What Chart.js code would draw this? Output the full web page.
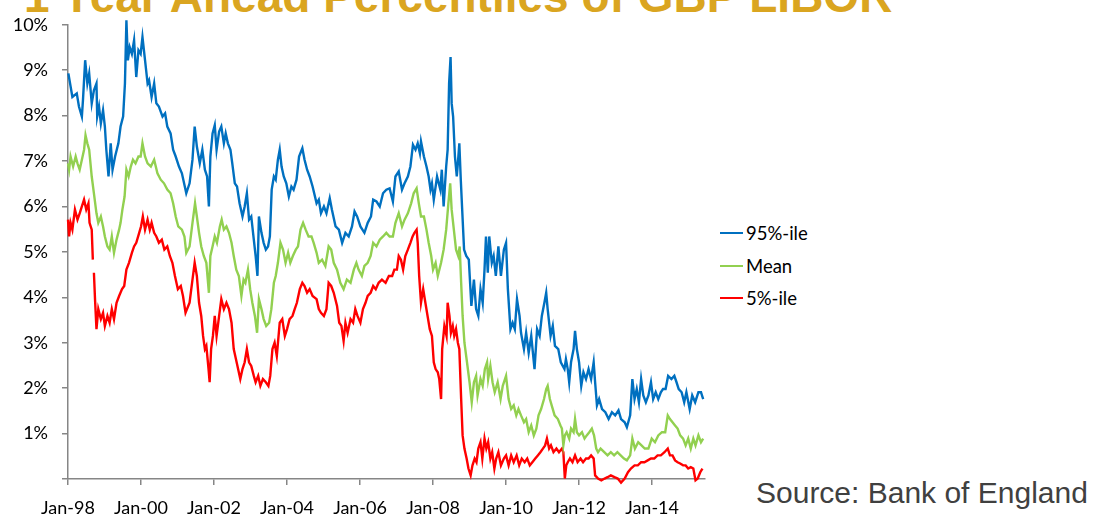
<!DOCTYPE html>
<html>
<head>
<meta charset="utf-8">
<title>1 Year Ahead Percentiles of GBP LIBOR</title>
<script src="https://cdn.jsdelivr.net/npm/chart.js@4.4.1/dist/chart.umd.min.js"></script>
<style>
  body { margin: 0; width: 1098px; height: 519px; background: #fff; position: relative; overflow: hidden; font-family: Lato, sans-serif; }
  #title { position: absolute; left: 24px; top: -27px; font: bold 46px/46px "Liberation Sans", Arial, sans-serif; color: #DAA520; white-space: nowrap; }
  #wrap { position: absolute; left: 0; top: 0; width: 720px; height: 519px; }
  #legend { position: absolute; left: 720px; top: 221px; }
  .row { position: relative; height: 32.5px; font-size: 18.5px; line-height: 24px; color: #000; padding-left: 26px; white-space: nowrap; }
  .row span { position: absolute; left: 0; top: 11px; width: 23px; height: 2px; }
  #source { position: absolute; left: 756px; top: 478px; font: 30px/30px "Liberation Sans", Arial, sans-serif; color: #404040; white-space: nowrap; }
</style>
</head>
<body>
<div id="title">1 Year Ahead Percentiles of GBP LIBOR</div>
<div id="wrap"><canvas id="liborChart"></canvas></div>
<div id="legend"></div>
<div id="source">Source: Bank of England</div>
<script>
// x positions are decimal years, values in %
const tickYears = [1998, 2000, 2002, 2004, 2006, 2008, 2010, 2012, 2014];
const tickLabels = ['Jan-98', 'Jan-00', 'Jan-02', 'Jan-04', 'Jan-06', 'Jan-08', 'Jan-10', 'Jan-12', 'Jan-14'];
const seriesNames = ['95%-ile', 'Mean', '5%-ile'];
const seriesColors = ['#0070C0', '#92D050', '#FF0000'];

const p95Dates = [1998.01,1998.12,1998.24,1998.30,1998.38,1998.41,1998.47,1998.53,1998.58,1998.65,1998.71,1998.78,1998.80,1998.85,1998.90,1998.96,
  1999.01,1999.05,1999.11,1999.17,1999.22,1999.29,1999.38,1999.44,1999.51,1999.56,1999.60,1999.64,1999.69,1999.75,1999.81,1999.87,1999.93,1999.99,
  2000.04,2000.11,2000.18,2000.22,2000.29,2000.36,2000.42,2000.49,2000.59,2000.66,2000.72,2000.81,2000.88,2000.95,
  2001.04,2001.12,2001.24,2001.33,2001.41,2001.47,2001.53,2001.61,2001.68,2001.75,2001.81,2001.86,2001.90,2001.96,
  2002.02,2002.07,2002.14,2002.20,2002.27,2002.32,2002.38,2002.45,2002.50,2002.57,2002.63,2002.70,2002.78,2002.84,2002.90,2002.96,
  2003.02,2003.09,2003.14,2003.19,2003.23,2003.30,2003.36,2003.42,2003.48,2003.53,2003.58,2003.64,2003.69,2003.75,2003.80,2003.85,2003.91,2003.98,
  2004.05,2004.12,2004.18,2004.26,2004.33,2004.42,2004.48,2004.55,2004.62,2004.70,2004.81,2004.87,2004.93,
  2005.01,2005.08,2005.17,2005.23,2005.33,2005.42,2005.51,2005.60,2005.69,2005.78,2005.85,2005.92,
  2006.01,2006.12,2006.21,2006.30,2006.36,2006.45,2006.54,2006.63,2006.72,2006.81,2006.90,2006.97,
  2007.06,2007.15,2007.22,2007.31,2007.38,2007.45,2007.52,2007.58,2007.64,2007.67,2007.75,2007.82,2007.88,2007.93,2007.97,
  2008.02,2008.11,2008.20,2008.24,2008.29,2008.36,2008.40,2008.44,2008.48,2008.51,2008.55,2008.60,2008.65,2008.68,2008.72,2008.76,2008.79,2008.85,2008.91,2008.98,
  2009.05,2009.12,2009.18,2009.24,2009.30,2009.36,2009.41,2009.45,2009.50,2009.54,2009.61,2009.66,2009.72,2009.79,2009.86,2009.94,
  2010.00,2010.05,2010.12,2010.18,2010.24,2010.30,2010.37,2010.41,2010.49,2010.55,2010.62,2010.69,2010.78,2010.85,2010.92,2010.98,
  2011.05,2011.10,2011.14,2011.22,2011.28,2011.34,2011.43,2011.50,2011.60,2011.64,2011.69,2011.73,2011.78,2011.85,2011.89,2011.94,
  2012.00,2012.06,2012.12,2012.19,2012.26,2012.33,2012.40,2012.44,2012.49,2012.55,2012.63,2012.72,2012.81,2012.90,2012.99,
  2013.08,2013.15,2013.25,2013.31,2013.40,2013.46,2013.52,2013.58,2013.64,2013.70,2013.76,2013.83,2013.90,2013.97,
  2014.03,2014.10,2014.17,2014.24,2014.30,2014.37,2014.44,2014.53,2014.61,2014.67,2014.73,2014.81,2014.88,2014.94,
  2015.03,2015.10,2015.18,2015.27,2015.34,2015.40];
const p95Values = [8.93,8.41,8.49,8.20,7.98,8.34,9.22,8.71,8.93,8.27,8.56,8.71,7.98,8.20,7.83,8.12,
  7.76,7.25,6.66,7.39,6.81,7.10,7.39,7.76,7.98,8.71,10.10,9.22,9.51,9.36,9.66,8.85,9.44,9.36,
  9.73,9.22,8.71,8.78,8.41,8.71,8.27,8.20,7.98,8.05,7.76,7.61,7.25,7.10,
  6.88,6.73,6.29,6.51,7.03,7.76,7.32,6.95,7.25,6.81,6.66,6.00,7.10,7.61,
  7.79,7.25,7.65,7.76,7.39,7.61,7.39,7.25,6.95,6.51,6.44,6.07,5.78,6.00,6.29,5.71,
  5.78,5.27,4.91,4.47,5.78,5.42,5.20,5.05,5.12,5.34,6.37,6.66,6.59,7.03,7.25,6.88,6.66,6.51,
  6.22,6.44,6.37,6.59,7.10,7.28,7.03,6.81,6.66,6.44,6.07,6.15,5.85,
  6.00,5.85,6.18,5.93,5.56,5.49,5.20,5.42,5.34,5.56,5.89,5.78,
  5.56,5.42,5.64,5.78,6.15,6.11,6.00,6.29,6.37,6.40,6.11,6.66,
  6.77,6.37,6.51,6.66,6.88,7.36,7.25,7.39,7.17,7.43,7.10,6.88,6.66,6.37,6.51,
  6.15,6.66,6.37,6.81,6.00,6.88,7.25,8.71,9.29,8.27,7.98,7.10,6.66,6.95,7.39,6.59,6.07,5.05,4.91,4.83,
  3.81,4.39,3.74,3.59,4.18,3.88,4.61,5.34,4.54,5.34,4.76,4.91,4.47,5.12,4.47,5.05,
  5.20,4.18,3.30,3.44,3.30,3.96,3.59,3.22,2.86,3.22,2.78,3.15,2.42,3.30,3.15,3.59,
  3.88,4.10,3.74,3.15,3.37,2.93,2.86,2.57,2.42,2.64,2.42,2.13,2.57,2.86,3.26,2.86,
  2.57,2.05,2.35,2.20,2.42,2.20,2.57,2.13,1.62,1.76,1.54,1.47,1.32,1.47,1.40,
  1.51,1.32,1.25,1.14,1.40,2.20,1.76,1.98,1.69,2.20,1.84,1.69,1.84,2.13,
  1.76,1.91,1.76,1.91,1.98,1.98,2.27,2.20,2.27,2.13,1.98,1.91,1.69,1.91,
  1.54,1.84,1.69,1.91,1.91,1.76];

const meanDates = [1998.00,1998.03,1998.07,1998.14,1998.21,1998.26,1998.32,1998.38,1998.44,1998.48,1998.53,1998.58,1998.65,1998.71,1998.78,1998.83,1998.90,1998.96,
  1999.01,1999.08,1999.14,1999.20,1999.26,1999.33,1999.40,1999.44,1999.49,1999.55,1999.60,1999.66,1999.72,1999.78,1999.85,1999.93,1999.99,
  2000.04,2000.11,2000.18,2000.27,2000.36,2000.45,2000.54,2000.63,2000.72,2000.81,2000.88,2000.95,
  2001.02,2001.12,2001.19,2001.24,2001.33,2001.41,2001.48,2001.53,2001.59,2001.65,2001.72,2001.79,2001.86,2001.90,2001.96,
  2002.02,2002.08,2002.16,2002.21,2002.27,2002.34,2002.41,2002.48,2002.54,2002.61,2002.68,2002.75,2002.81,2002.86,2002.93,2002.99,
  2003.05,2003.12,2003.18,2003.23,2003.30,2003.36,2003.43,2003.51,2003.57,2003.64,2003.69,2003.75,2003.82,2003.89,2003.96,
  2004.03,2004.09,2004.16,2004.24,2004.30,2004.37,2004.44,2004.51,2004.59,2004.67,2004.73,2004.81,2004.87,2004.96,
  2005.05,2005.14,2005.21,2005.28,2005.37,2005.46,2005.55,2005.64,2005.74,2005.83,2005.90,2005.96,
  2006.05,2006.12,2006.21,2006.29,2006.36,2006.45,2006.54,2006.63,2006.72,2006.81,2006.90,2006.97,
  2007.06,2007.15,2007.22,2007.31,2007.40,2007.47,2007.55,2007.61,2007.67,2007.75,2007.82,2007.88,2007.95,
  2008.00,2008.07,2008.13,2008.22,2008.29,2008.36,2008.42,2008.47,2008.51,2008.57,2008.63,2008.69,2008.73,2008.77,2008.81,2008.86,2008.93,
  2009.00,2009.06,2009.12,2009.18,2009.22,2009.30,2009.36,2009.42,2009.48,2009.51,2009.57,2009.63,2009.69,2009.77,2009.85,2009.91,
  2010.00,2010.07,2010.14,2010.21,2010.28,2010.34,2010.41,2010.49,2010.55,2010.62,2010.69,2010.76,2010.83,2010.89,2010.96,
  2011.04,2011.10,2011.14,2011.20,2011.25,2011.33,2011.42,2011.49,2011.53,2011.57,2011.61,2011.66,2011.73,2011.78,2011.85,2011.89,2011.94,
  2012.00,2012.08,2012.15,2012.21,2012.28,2012.35,2012.41,2012.47,2012.52,2012.59,2012.69,2012.78,2012.87,2012.96,
  2013.05,2013.14,2013.23,2013.31,2013.40,2013.46,2013.53,2013.62,2013.71,2013.80,2013.90,2013.99,
  2014.08,2014.17,2014.27,2014.36,2014.43,2014.49,2014.56,2014.63,2014.70,2014.77,2014.85,2014.92,2014.99,
  2015.06,2015.13,2015.19,2015.27,2015.34,2015.40];
const meanValues = [6.95,6.81,7.10,6.88,7.10,6.95,6.81,7.03,7.25,7.57,7.39,7.25,6.66,6.29,5.85,5.64,5.78,5.56,
  5.34,5.12,5.05,5.34,4.98,5.27,5.49,5.64,5.93,6.22,6.81,6.66,6.88,7.03,6.95,7.10,7.10,
  7.39,7.10,6.95,6.88,7.03,6.73,6.59,6.51,6.37,6.29,6.07,5.78,
  5.56,5.49,5.34,4.98,5.12,5.64,6.07,5.78,5.42,5.12,4.91,4.76,4.10,4.91,5.12,
  5.34,5.20,5.56,5.71,5.49,5.56,5.42,5.20,4.91,4.61,4.47,4.03,4.39,4.32,4.61,4.18,
  3.88,3.59,3.22,3.96,3.74,3.52,3.37,3.44,3.74,4.32,4.47,4.76,5.20,5.05,4.76,
  4.98,4.76,4.91,5.05,5.12,5.49,5.64,5.49,5.34,5.34,5.20,4.98,4.76,4.83,
  4.69,5.12,5.05,4.76,4.61,4.32,4.18,4.39,4.32,4.61,4.76,4.61,
  4.47,4.69,4.76,4.91,5.20,5.12,5.27,5.34,5.42,5.34,5.34,5.64,
  5.85,5.56,5.71,5.85,6.07,6.29,6.40,6.07,5.78,5.78,5.49,5.20,4.91,
  4.61,4.76,4.47,4.76,5.05,5.49,6.07,6.51,5.93,5.49,5.05,4.91,5.12,4.32,3.59,3.00,2.57,
  2.13,1.69,2.13,2.27,1.84,2.20,2.05,2.42,2.57,2.20,2.49,2.13,1.91,2.13,1.76,2.05,
  2.27,1.76,1.54,1.62,1.40,1.54,1.40,1.25,1.32,1.03,1.18,0.96,1.11,1.40,1.54,
  1.76,1.98,2.05,1.76,1.62,1.40,1.32,1.18,1.11,0.74,0.96,1.03,0.89,1.11,1.03,1.32,1.03,
  0.96,1.03,0.89,0.96,1.03,1.11,0.96,0.67,0.59,0.67,0.59,0.52,0.59,0.52,
  0.59,0.52,0.45,0.41,0.52,0.89,0.67,0.81,0.74,0.67,0.67,0.89,
  0.81,0.96,1.03,1.03,1.40,1.32,1.25,1.18,1.11,0.96,0.89,0.74,0.89,
  0.67,0.89,0.74,0.96,0.81,0.89];

const p5Dates = [1998.00,1998.03,1998.07,1998.12,1998.19,1998.26,1998.32,1998.38,1998.44,1998.50,1998.56,1998.59,1998.65,1998.68,1998.69,1998.71,1998.74,1998.78,1998.83,1998.90,1998.96,
  1999.01,1999.08,1999.14,1999.20,1999.26,1999.33,1999.40,1999.48,1999.54,1999.60,1999.67,1999.75,1999.81,1999.87,1999.95,
  2000.00,2000.05,2000.11,2000.18,2000.24,2000.29,2000.36,2000.42,2000.49,2000.57,2000.64,2000.72,2000.79,2000.86,2000.93,
  2001.01,2001.09,2001.15,2001.22,2001.33,2001.41,2001.47,2001.53,2001.59,2001.65,2001.70,2001.75,2001.79,2001.85,2001.88,2001.92,2001.97,
  2002.02,2002.07,2002.14,2002.20,2002.27,2002.34,2002.41,2002.48,2002.54,2002.60,2002.66,2002.72,2002.78,2002.84,2002.90,2002.96,
  2003.02,2003.09,2003.14,2003.21,2003.27,2003.34,2003.42,2003.49,2003.54,2003.60,2003.66,2003.72,2003.80,2003.87,2003.94,
  2004.00,2004.07,2004.15,2004.21,2004.27,2004.35,2004.42,2004.48,2004.55,2004.62,2004.70,2004.81,2004.87,2004.93,
  2005.01,2005.08,2005.14,2005.21,2005.28,2005.37,2005.43,2005.49,2005.55,2005.60,2005.66,2005.74,2005.81,2005.87,2005.93,
  2006.01,2006.08,2006.15,2006.21,2006.29,2006.36,2006.43,2006.51,2006.60,2006.70,2006.79,2006.88,2006.94,
  2007.01,2007.06,2007.12,2007.18,2007.24,2007.31,2007.38,2007.44,2007.49,2007.55,2007.58,2007.62,2007.67,2007.73,2007.79,2007.85,2007.91,2007.97,
  2008.02,2008.07,2008.13,2008.17,2008.22,2008.25,2008.31,2008.37,2008.40,2008.45,2008.49,2008.54,2008.58,2008.63,2008.68,2008.72,2008.77,2008.81,2008.86,2008.92,2008.97,
  2009.03,2009.08,2009.14,2009.19,2009.24,2009.30,2009.35,2009.41,2009.46,2009.51,2009.57,2009.62,2009.68,2009.73,2009.79,2009.86,2009.94,
  2010.00,2010.07,2010.14,2010.21,2010.29,2010.36,2010.43,2010.51,2010.58,2010.65,2010.72,2010.80,2010.87,2010.94,
  2011.01,2011.07,2011.12,2011.18,2011.23,2011.30,2011.38,2011.45,2011.53,2011.57,2011.61,2011.65,2011.69,2011.75,2011.82,2011.89,2011.96,
  2012.04,2012.11,2012.19,2012.26,2012.33,2012.40,2012.44,2012.52,2012.61,2012.70,2012.78,2012.87,2012.97,
  2013.06,2013.15,2013.25,2013.34,2013.42,2013.52,2013.61,2013.70,2013.79,2013.88,2013.97,
  2014.06,2014.15,2014.24,2014.34,2014.43,2014.49,2014.56,2014.63,2014.70,2014.77,2014.85,2014.92,2014.99,
  2015.06,2015.13,2015.19,2015.25,2015.32,2015.38];
const p5Values = [5.71,5.34,5.64,5.49,5.93,5.71,5.85,6.00,6.15,5.93,6.07,5.64,5.49,4.83,null,4.54,3.96,3.30,3.74,3.52,3.66,
  3.37,3.59,3.44,3.74,3.52,3.88,4.03,4.18,4.25,4.61,4.76,4.98,5.12,5.20,5.42,
  5.56,5.78,5.49,5.71,5.49,5.64,5.42,5.34,5.20,5.27,5.05,5.12,4.91,4.76,4.47,
  4.18,4.25,4.03,3.66,3.88,4.39,4.76,4.47,3.88,3.59,3.15,2.86,2.93,2.42,2.13,2.86,3.15,
  3.59,3.15,3.59,3.96,3.74,3.88,3.74,3.44,2.86,2.64,2.42,2.20,2.42,2.57,2.86,2.57,
  2.49,2.27,2.13,2.27,2.05,2.20,2.13,2.05,2.27,2.86,3.00,2.71,3.44,3.52,3.15,
  3.30,3.52,3.59,3.74,3.88,4.18,4.32,4.25,4.10,4.18,4.03,3.96,3.74,3.66,
  3.59,3.74,4.32,4.25,4.10,3.81,3.44,3.37,3.04,3.44,3.22,3.52,3.44,3.74,3.59,
  3.44,3.74,3.88,4.03,4.10,4.25,4.18,4.32,4.39,4.32,4.47,4.47,4.61,
  4.61,4.91,4.83,4.61,4.91,5.05,5.20,5.34,5.42,5.49,5.20,4.47,3.88,4.18,3.88,3.59,3.30,3.15,
  2.57,2.42,2.35,2.20,1.76,2.86,3.37,3.15,3.88,3.59,3.22,3.37,3.15,3.30,3.00,2.86,1.76,0.96,0.67,0.45,0.23,
  0.08,0.30,0.45,0.37,0.67,0.81,0.45,0.89,0.67,0.81,0.45,0.59,0.23,0.45,0.59,0.30,0.45,
  0.52,0.30,0.52,0.37,0.52,0.30,0.45,0.37,0.45,0.30,0.37,0.45,0.52,0.59,
  0.67,0.74,0.89,0.67,0.74,0.59,0.67,0.59,0.67,0.59,0.01,0.30,0.37,0.45,0.37,0.52,0.37,
  0.45,0.37,0.45,0.45,0.52,0.45,0.08,0.01,-0.03,0.01,0.04,0.08,0.04,
  0.01,-0.08,0.01,0.15,0.23,0.30,0.30,0.37,0.37,0.41,0.45,
  0.45,0.52,0.52,0.59,0.67,0.52,0.52,0.41,0.37,0.34,0.30,0.30,0.23,
  0.26,0.23,-0.03,0.01,0.15,0.23];

const toPoints = (dates, values) => dates.map((d, i) => ({ x: d, y: values[i] }));

document.addEventListener('DOMContentLoaded', function() {
  const ctx = document.getElementById('liborChart').getContext('2d');
  const axisGrey = '#868686';
  const labelFont = { family: 'Lato', size: 18 };

  const allSeries = [toPoints(p95Dates, p95Values), toPoints(meanDates, meanValues), toPoints(p5Dates, p5Values)];

  new Chart(ctx, {
    type: 'line',
    data: {
      datasets: allSeries.map((pts, i) => ({
        label: seriesNames[i],
        data: pts,
        borderColor: seriesColors[i],
        backgroundColor: seriesColors[i],
        borderWidth: 2.4,
        pointRadius: 0,
        tension: 0,
        fill: false,
        clip: 8
      }))
    },
    options: {
      responsive: true,
      maintainAspectRatio: false,
      animation: false,
      layout: { padding: { top: 23, right: 15, bottom: 0, left: 0 } },
      plugins: { legend: { display: false }, tooltip: { enabled: false } },
      scales: {
        x: {
          type: 'linear',
          min: 1998,
          max: 2015.45,
          afterBuildTicks: s => { s.ticks = tickYears.map(v => ({ value: v })); },
          afterFit: s => { s.height = 40; },
          ticks: {
            autoSkip: false, maxRotation: 0, padding: 12, color: '#000', font: labelFont,
            callback: v => tickLabels[tickYears.indexOf(v)]
          },
          grid: { drawOnChartArea: false, tickLength: 6, color: axisGrey, lineWidth: 1.5 },
          border: { color: axisGrey, width: 1.5 }
        },
        y: {
          min: 0,
          max: 10,
          afterFit: s => { s.width = 68; },
          ticks: { stepSize: 1, padding: 14, color: '#000', font: labelFont, callback: v => v === 0 ? '' : v + '%' },
          grid: { drawOnChartArea: false, tickLength: 6, color: axisGrey, lineWidth: 1.5 },
          border: { color: axisGrey, width: 1.5 }
        }
      }
    }
  });

  // legend as plain html next to the plot
  const legend = document.getElementById('legend');
  seriesNames.forEach((name, i) => {
    const row = document.createElement('div');
    row.className = 'row';
    row.innerHTML = '<span style="background:' + seriesColors[i] + '"></span>' + name;
    legend.appendChild(row);
  });
});
</script>
</body>
</html>
